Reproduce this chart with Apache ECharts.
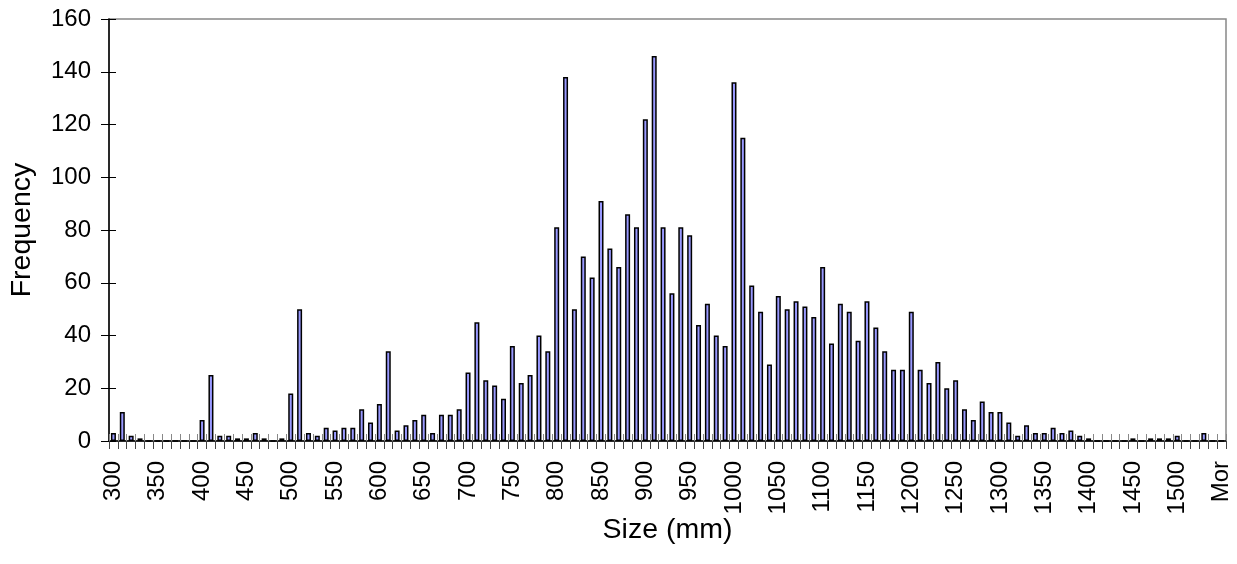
<!DOCTYPE html>
<html>
<head>
<meta charset="utf-8">
<title>Size distribution</title>
<script src="https://cdn.jsdelivr.net/npm/echarts@6/dist/echarts.min.js"></script>
<style>
  html, body { margin: 0; padding: 0; background: #ffffff; }
  #chart { width: 1237px; height: 564px; }
</style>
</head>
<body>
<div id="chart"></div>
<script>
// Histogram bins (upper edge of each 10 mm class), last bin collects the rest
const binLabels = [
  '300','310','320','330','340','350','360','370','380','390',
  '400','410','420','430','440','450','460','470','480','490',
  '500','510','520','530','540','550','560','570','580','590',
  '600','610','620','630','640','650','660','670','680','690',
  '700','710','720','730','740','750','760','770','780','790',
  '800','810','820','830','840','850','860','870','880','890',
  '900','910','920','930','940','950','960','970','980','990',
  '1000','1010','1020','1030','1040','1050','1060','1070','1080','1090',
  '1100','1110','1120','1130','1140','1150','1160','1170','1180','1190',
  '1200','1210','1220','1230','1240','1250','1260','1270','1280','1290',
  '1300','1310','1320','1330','1340','1350','1360','1370','1380','1390',
  '1400','1410','1420','1430','1440','1450','1460','1470','1480','1490',
  '1500','1510','1520','1530','1540','Mor'
];

// Count of items per bin
const frequency = [
  3, 11, 2, 1, 0, 0, 0, 0, 0, 0,
  8, 25, 2, 2, 1, 1, 3, 1, 0, 1,
  18, 50, 3, 2, 5, 4, 5, 5, 12, 7,
  14, 34, 4, 6, 8, 10, 3, 10, 10, 12,
  26, 45, 23, 21, 16, 36, 22, 25, 40, 34,
  81, 138, 50, 70, 62, 91, 73, 66, 86, 81,
  122, 146, 81, 56, 81, 78, 44, 52, 40, 36,
  136, 115, 59, 49, 29, 55, 50, 53, 51, 47,
  66, 37, 52, 49, 38, 53, 43, 34, 27, 27,
  49, 27, 22, 30, 20, 23, 12, 8, 15, 11,
  11, 7, 2, 6, 3, 3, 5, 3, 4, 2,
  1, 0, 0, 0, 0, 1, 0, 1, 1, 1,
  2, 0, 0, 3, 0, 0
];

// Value axis range
const yMin = 0;
const yMax = 160;
const yStep = 20;

const FONT = '"Liberation Sans", Arial, sans-serif';

const chart = echarts.init(document.getElementById('chart'), null, { renderer: 'canvas' });

chart.setOption({
  animation: false,
  backgroundColor: '#ffffff',
  textStyle: { fontFamily: FONT },
  grid: {
    left: 109, right: 11, top: 19, bottom: 123,
    show: true,
    borderColor: '#888888',
    borderWidth: 1.5,
    outerBoundsMode: 'none'
  },
  xAxis: [
    {
      type: 'category',
      data: binLabels,
      position: 'bottom',
      boundaryGap: true,
      name: 'Size (mm)',
      nameLocation: 'middle',
      nameGap: 75,
      nameMoveOverlap: false,
      nameTextStyle: { fontFamily: FONT, fontSize: 28.5, color: '#000' },
      axisLine: { show: true, lineStyle: { color: '#000', width: 1.5 } },
      axisTick: { show: true, interval: 0, length: 8, lineStyle: { color: '#444', width: 1 } },
      axisLabel: {
        interval: 4, rotate: 90, margin: 20,
        fontFamily: FONT, fontSize: 24, color: '#000'
      },
      splitLine: { show: false }
    },
    {
      // inner half of the crossing ticks
      type: 'category',
      data: binLabels,
      position: 'bottom',
      boundaryGap: true,
      axisLine: { show: false },
      axisTick: { show: true, inside: true, interval: 0, length: 7, lineStyle: { color: '#888', width: 1 } },
      axisLabel: { show: false },
      splitLine: { show: false }
    }
  ],
  yAxis: [
    {
      type: 'value',
      min: yMin, max: yMax, interval: yStep,
      position: 'left',
      name: 'Frequency',
      nameLocation: 'middle',
      nameRotate: 90,
      nameGap: 72,
      nameMoveOverlap: false,
      nameTextStyle: { fontFamily: FONT, fontSize: 28.5, color: '#000' },
      axisLine: { show: true, lineStyle: { color: '#000', width: 1.5 } },
      axisTick: { show: true, length: 8, lineStyle: { color: '#000', width: 1 } },
      axisLabel: { margin: 18, fontFamily: FONT, fontSize: 24, color: '#000' },
      splitLine: { show: false }
    },
    {
      type: 'value',
      min: yMin, max: yMax, interval: yStep,
      position: 'left',
      axisLine: { show: false },
      axisTick: { show: true, inside: true, length: 7, lineStyle: { color: '#000', width: 1 } },
      axisLabel: { show: false },
      splitLine: { show: false }
    }
  ],
  series: [
    {
      type: 'bar',
      xAxisIndex: 0,
      yAxisIndex: 0,
      data: frequency,
      barWidth: 5,
      itemStyle: { color: '#9999ff', borderColor: '#000000', borderWidth: 1.5 },
      emphasis: { disabled: true }
    }
  ]
});
</script>
</body>
</html>
